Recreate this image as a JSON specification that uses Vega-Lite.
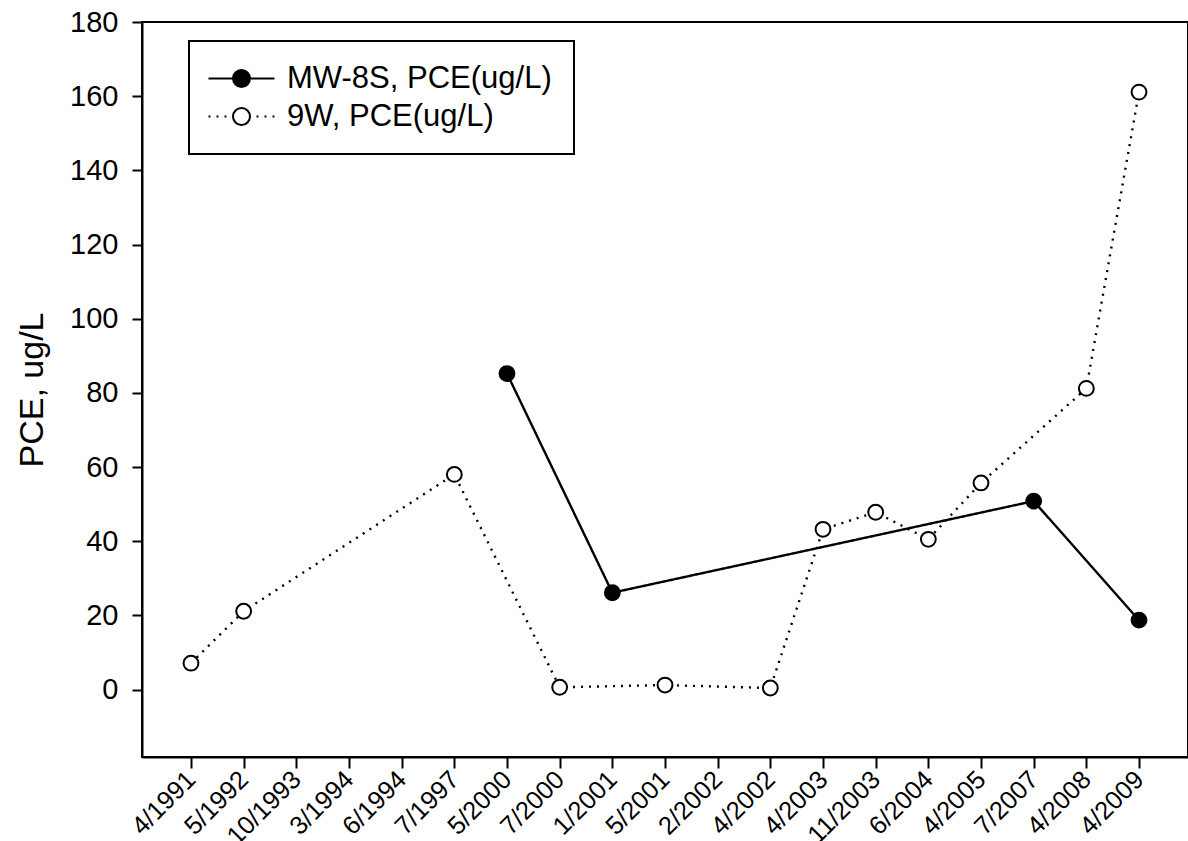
{
  "$schema": "https://vega.github.io/schema/vega-lite/v6.json",
  "width": 1046,
  "height": 735,
  "autosize": "none",
  "padding": {"left": 142, "top": 22, "right": 0, "bottom": 84},
  "background": "white",
  "config": {
    "font": "Liberation Sans",
    "view": {"stroke": "black", "strokeWidth": 2},
    "axis": {
      "domainColor": "black",
      "domainWidth": 2,
      "tickColor": "black",
      "tickWidth": 2,
      "labelColor": "black",
      "titleColor": "black",
      "labelFont": "Liberation Sans",
      "titleFont": "Liberation Sans",
      "grid": false
    }
  },
  "data": {
    "values": [
      {"date": "4/1991", "series": "9W, PCE(ug/L)", "value": 7.1},
      {"date": "5/1992", "series": "9W, PCE(ug/L)", "value": 21.1},
      {"date": "7/1997", "series": "9W, PCE(ug/L)", "value": 58.0},
      {"date": "7/2000", "series": "9W, PCE(ug/L)", "value": 0.6},
      {"date": "5/2001", "series": "9W, PCE(ug/L)", "value": 1.2},
      {"date": "4/2002", "series": "9W, PCE(ug/L)", "value": 0.4},
      {"date": "4/2003", "series": "9W, PCE(ug/L)", "value": 43.2},
      {"date": "11/2003", "series": "9W, PCE(ug/L)", "value": 47.8},
      {"date": "6/2004", "series": "9W, PCE(ug/L)", "value": 40.5},
      {"date": "4/2005", "series": "9W, PCE(ug/L)", "value": 55.7},
      {"date": "4/2008", "series": "9W, PCE(ug/L)", "value": 81.2},
      {"date": "4/2009", "series": "9W, PCE(ug/L)", "value": 161.1},
      {"date": "5/2000", "series": "MW-8S, PCE(ug/L)", "value": 85.2},
      {"date": "1/2001", "series": "MW-8S, PCE(ug/L)", "value": 26.1},
      {"date": "7/2007", "series": "MW-8S, PCE(ug/L)", "value": 50.8},
      {"date": "4/2009", "series": "MW-8S, PCE(ug/L)", "value": 18.7}
    ]
  },
  "encoding": {
    "x": {
      "field": "date",
      "type": "ordinal",
      "sort": ["4/1991", "5/1992", "10/1993", "3/1994", "6/1994", "7/1997", "5/2000", "7/2000", "1/2001", "5/2001", "2/2002", "4/2002", "4/2003", "11/2003", "6/2004", "4/2005", "7/2007", "4/2008", "4/2009"],
      "scale": {
        "type": "point",
        "domain": ["4/1991", "5/1992", "10/1993", "3/1994", "6/1994", "7/1997", "5/2000", "7/2000", "1/2001", "5/2001", "2/2002", "4/2002", "4/2003", "11/2003", "6/2004", "4/2005", "7/2007", "4/2008", "4/2009"],
        "padding": 0.93
      },
      "axis": {
        "title": null,
        "labelAngle": -45,
        "labelAlign": "right",
        "labelBaseline": "middle",
        "labelFontSize": 25.5,
        "labelPadding": 7,
        "tickSize": 11
      }
    },
    "y": {
      "field": "value",
      "type": "quantitative",
      "scale": {"domain": [-18.2, 180], "nice": false, "zero": false},
      "axis": {
        "title": "PCE, ug/L",
        "titleFontSize": 34,
        "titleFontWeight": "normal",
        "titlePadding": 20,
        "values": [0, 20, 40, 60, 80, 100, 120, 140, 160, 180],
        "labelFontSize": 29,
        "labelPadding": 14,
        "tickSize": 10
      }
    }
  },
  "layer": [
    {
      "mark": {"type": "line", "color": "black", "strokeWidth": 2.4},
      "encoding": {
        "strokeDash": {
          "field": "series",
          "type": "nominal",
          "scale": {"domain": ["MW-8S, PCE(ug/L)", "9W, PCE(ug/L)"], "range": [[1, 0], [2, 6]]},
          "legend": {
            "orient": "none",
            "legendX": 47,
            "legendY": 19,
            "title": null,
            "padding": 22,
            "strokeColor": "black",
            "fillColor": "white",
            "encode": {"legend": {"update": {"strokeWidth": {"value": 2}}}},
            "symbolType": "M-3.3,0L3.3,0",
            "symbolSize": 400,
            "symbolOffset": 15,
            "symbolStrokeWidth": 2,
            "symbolStrokeColor": "black",
            "symbolFillColor": "transparent",
            "labelFontSize": 31,
            "labelFont": "Liberation Sans",
            "labelColor": "black",
            "labelOffset": 30,
            "labelLimit": 600,
            "rowPadding": 6,
            "zindex": 0
          }
        }
      }
    },
    {
      "mark": {"type": "point", "shape": "circle", "filled": true, "stroke": "black", "strokeWidth": 2, "size": 220, "opacity": 1},
      "encoding": {
        "fill": {
          "field": "series",
          "type": "nominal",
          "sort": "descending",
          "scale": {"range": ["black", "white"]},
          "legend": {
            "orient": "none",
            "legendX": 47,
            "legendY": 19,
            "title": null,
            "padding": 22,
            "symbolType": "M0.85,0A0.85,0.85 0 1,1 -0.85,0A0.85,0.85 0 1,1 0.85,0Z",
            "symbolSize": 400,
            "symbolOffset": 15,
            "symbolStrokeWidth": 2,
            "symbolStrokeColor": "black",
            "symbolOpacity": 1,
            "labelFontSize": 31,
            "labelFont": "Liberation Sans",
            "labelColor": "transparent",
            "labelOffset": 30,
            "labelLimit": 600,
            "rowPadding": 6,
            "zindex": 1
          }
        }
      }
    }
  ]
}
